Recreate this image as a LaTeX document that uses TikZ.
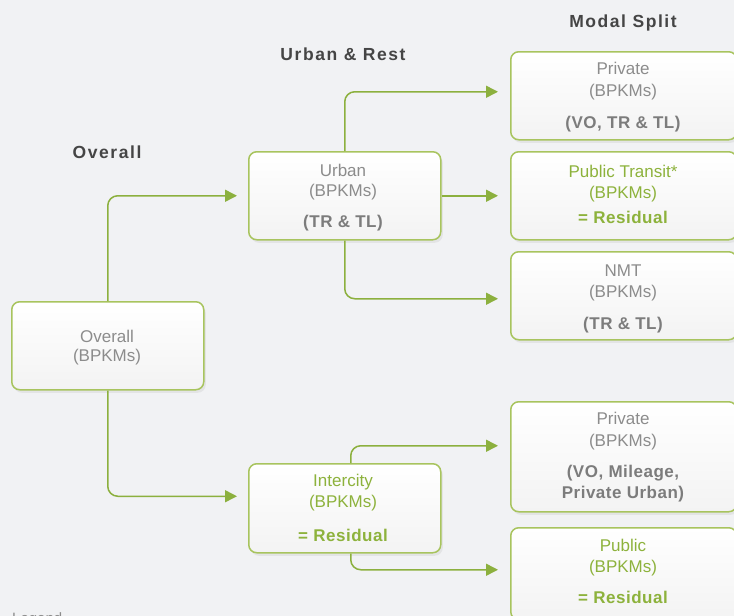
\documentclass[tikz,border=0pt]{standalone}
\usepackage{fontspec}
\setmainfont{Liberation Sans}
\newfontfamily\hdrfont[LetterSpace=9]{Liberation Sans}
\newfontfamily\bldfont[LetterSpace=3]{Liberation Sans}
\usetikzlibrary{arrows.meta,shadows,calc}
\definecolor{bg}{HTML}{F1F2F4}
\definecolor{boxgreen}{HTML}{A8C45E}
\definecolor{arrgreen}{HTML}{8CB03E}
\definecolor{txtgreen}{HTML}{8DB23C}
\definecolor{txtgray}{HTML}{8C8C8C}
\definecolor{bldgray}{HTML}{7C7C7C}
\definecolor{hdrgray}{HTML}{454545}
\definecolor{boxbot}{HTML}{F3F3F3}
\tikzset{
  box/.style={draw=boxgreen, line width=1.5pt, rounded corners=8pt,
    top color=white, bottom color=boxbot,
    drop shadow={opacity=0.12, shadow xshift=2pt, shadow yshift=-3pt},
    inner sep=0pt, anchor=north west},
  lbl/.style={inner sep=0pt, anchor=base, font=\fontsize{17}{20}\selectfont, text=txtgray},
  glbl/.style={lbl, text=txtgreen},
  blbl/.style={inner sep=0pt, anchor=base, font=\fontsize{17}{20}\selectfont\bldfont\bfseries, text=bldgray},
  gblbl/.style={blbl, text=txtgreen},
  hdr/.style={inner sep=0pt, anchor=base, font=\fontsize{17.5}{20}\selectfont\hdrfont\bfseries, text=hdrgray},
  conn/.style={draw=arrgreen, line width=1.5pt, rounded corners=10pt,
    -{Triangle[length=12pt,width=12pt]}}
}
\begin{document}
\begin{tikzpicture}[x=1pt,y=-1pt]
\clip (0,0) rectangle (734,616);
\fill[bg] (0,0) rectangle (734,616);
\useasboundingbox (0,0) rectangle (734,616);

% headers
\node[hdr] (hmodal) at (623,27) {Modal Split};
\node[hdr] (hurban) at (343,60) {Urban \& Rest};
\node[hdr] (hover) at (107,158) {Overall};

% boxes
\node[box, minimum width=192pt, minimum height=88pt] (ov) at (11,301) {};
\node[box, minimum width=192pt, minimum height=88pt] (urb) at (248,151) {};
\node[box, minimum width=192pt, minimum height=89pt] (int) at (248,463) {};
\node[box, minimum width=226pt, minimum height=88pt] (pr1) at (510,51) {};
\node[box, minimum width=226pt, minimum height=88pt] (pt) at (510,151) {};
\node[box, minimum width=226pt, minimum height=88pt] (nmt) at (510,251) {};
\node[box, minimum width=226pt, minimum height=110pt] (pr2) at (510,401) {};
\node[box, minimum width=226pt, minimum height=92pt] (pub) at (510,527) {};

% texts
\node[lbl] (ov1) at (107,342) {Overall};
\node[lbl] (ov2) at (107,361) {(BPKMs)};

\node[lbl] (urb1) at (343,176) {Urban};
\node[lbl] (urb2) at (343,196) {(BPKMs)};
\node[blbl] (urb3) at (343,227) {(TR \& TL)};

\node[glbl] (int1) at (343,486) {Intercity};
\node[glbl] (int2) at (343,507) {(BPKMs)};
\node[gblbl] (int3) at (343,541) {= Residual};

\node[lbl] (pr11) at (623,74) {Private};
\node[lbl] (pr12) at (623,96) {(BPKMs)};
\node[blbl] (pr13) at (623,128) {(VO, TR \& TL)};

\node[glbl] (pt1) at (623,177) {Public Transit*};
\node[glbl] (pt2) at (623,198) {(BPKMs)};
\node[gblbl] (pt3) at (623,223) {= Residual};

\node[lbl] (nmt1) at (623,276) {NMT};
\node[lbl] (nmt2) at (623,297) {(BPKMs)};
\node[blbl] (nmt3) at (623,329) {(TR \& TL)};

\node[lbl] (pr21) at (623,424) {Private};
\node[lbl] (pr22) at (623,446) {(BPKMs)};
\node[blbl] (pr23) at (623,477) {(VO, Mileage,};
\node[blbl] (pr24) at (623,498) {Private Urban)};

\node[glbl] (pub1) at (623,551) {Public};
\node[glbl] (pub2) at (623,572) {(BPKMs)};
\node[gblbl] (pub3) at (623,603) {= Residual};

\node[lbl, anchor=base west, font=\fontsize{15}{18}\selectfont] (legend) at (12,623) {Legend};

% connectors
\draw[conn] (ov.north) |- ($(urb.west)+(-11,0)$);
\draw[conn] (ov.south) |- ($(int.west)+(-11,-12)$);
\draw[conn] (urb.north) |- ($(pr1.west)+(-12,-4)$);
\draw[conn] (urb.east) -- ($(pt.west)+(-12,0)$);
\draw[conn] (urb.south) |- ($(nmt.west)+(-12,3)$);
\draw[conn] ($(int.north)+(6,0)$) |- ($(pr2.west)+(-12,-11)$);
\draw[conn] ($(int.south)+(6,0)$) |- ($(pub.west)+(-12,-4)$);
\end{tikzpicture}
\end{document}
